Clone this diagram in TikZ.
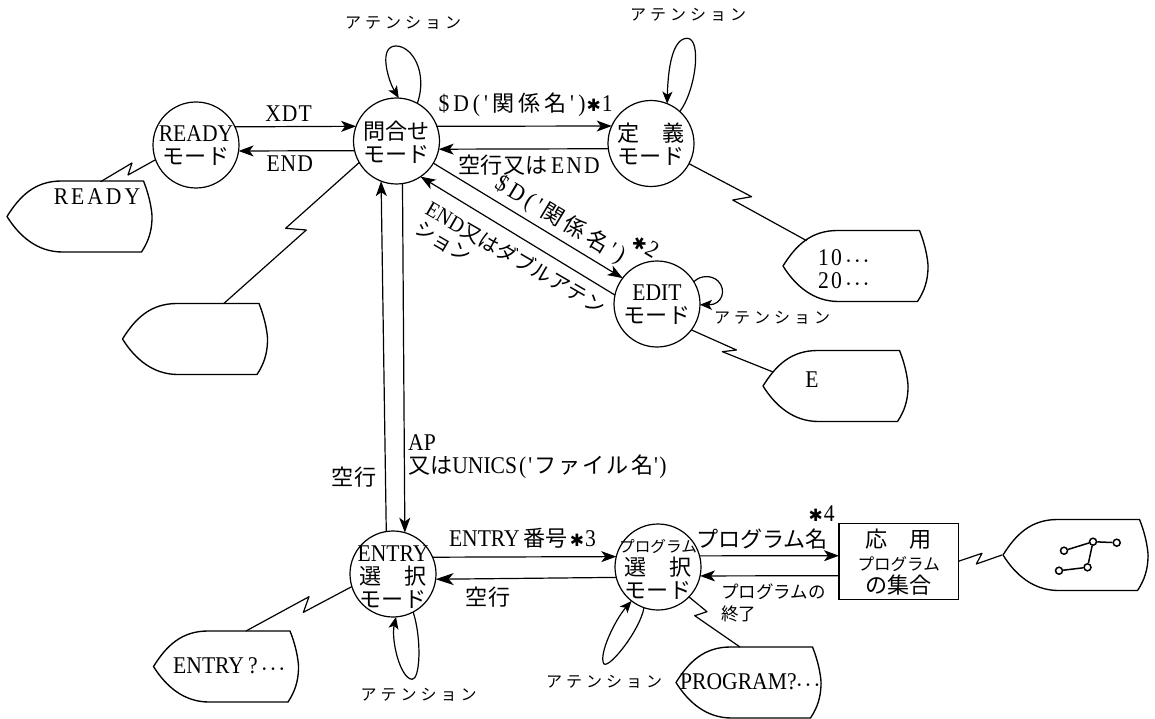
\documentclass[tikz,border=0pt]{standalone}
\usepackage{fontspec}
\setmainfont[FakeStretch=0.9]{Liberation Serif}
\newfontfamily\jp[Scale=0.92]{Noto Sans CJK JP}
\newfontfamily\jpk[LetterSpace=25]{Noto Sans CJK JP}
\newfontfamily\djv{DejaVu Sans}
\usetikzlibrary{arrows.meta,calc}
\tikzset{
  wire/.style={line width=1.2pt,line join=round},
  arrowed/.style={wire,-{Stealth[length=15pt,width=11pt,inset=4pt]}},
  bigarrow/.style={wire,-{Stealth[length=18pt,width=12pt,inset=5pt]}},
  loopwire/.style={wire,-{Stealth[length=12pt,width=10pt,inset=3pt]}},
  statecirc/.style={circle,draw,line width=1.2pt,minimum size=86pt,inner sep=0pt,outer sep=0pt},
  txt/.style={inner sep=0pt,font=\fontsize{24}{23}\selectfont,align=center},
  attn/.style={inner sep=0pt,font=\fontsize{16}{18}\jpk},
  tapebox/.style={minimum width=145pt,minimum height=71pt,inner sep=0pt,outer sep=0pt},
  boxnode/.style={rectangle,draw,line width=1.2pt,inner sep=0pt,outer sep=0pt,minimum width=119.5pt,minimum height=76pt},
  dot/.style={circle,draw,line width=1.5pt,fill=white,minimum size=7pt,inner sep=0pt}
}
\newcommand{\statetext}[3]{%
  \node[statecirc] (#1) at (#2,#3) {};
}
\newcommand{\tapeshape}[3]{%
  \node[tapebox] (#1) at (#2,#3) {};
  \begin{scope}[shift={(#1.center)}]
    \draw[wire,line width=1.35pt] (-72.5,0) .. controls (-60,-20) and (-45,-35.5) .. (-18,-35.5) -- (64,-35.5)
      .. controls (71,-18) and (73,-2) .. (72.5,3) .. controls (72,15) and (69,25) .. (62,35.5)
      -- (-17,35.5) .. controls (-42,35.5) and (-60,20) .. cycle;
  \end{scope}
}
\newcommand{\dd}{{\fontsize{16}{16}\selectfont\boldmath$\cdots$}}
\newcommand{\st}{{\fontsize{17}{17}\djv ✱}}
\newcommand{\qt}{\textquotesingle}
\newcommand{\DD}{\$\,D\,(\,\qt\,{\jp 関\,係\,名}\,\qt\,)}
\begin{document}
\begin{tikzpicture}[x=1pt,y=-1pt]
\useasboundingbox (0,0) rectangle (1155,719);
\fill[white] (0,0) rectangle (1155,719);

% states
\statetext{ready}{196}{145}
\node[txt] (ready-text) at (196,146) {READY\\{\jp モード}};
\statetext{q}{396.5}{141}
\node[txt] (q-text) at (396.5,142) {{\jp 問合せ}\\{\jp モード}};
\statetext{def}{651}{143.5}
\node[txt] (def-text) at (651,144) {{\jp 定\quad 義}\\{\jp モード}};
\statetext{edit}{657}{304}
\node[txt] (edit-text) at (657,305) {EDIT\\{\jp モード}};
\statetext{entry}{393}{574}
\node[txt] (entry-text) at (393,577) {\fontsize{24}{22}\selectfont ENTRY\\{\jp 選\quad 択}\\{\jp モード}};
\statetext{prog}{658}{567}
\node[txt] (prog-text) at (658,569) {\fontsize{24}{22.5}\selectfont{\fontsize{17}{20}\jp プログラム}\\{\jp 選\quad 択}\\{\jp モード}};
\node[boxnode] (apps) at (898.7,561.3) {};
\node[txt] (apps-text) at (898.7,562) {\fontsize{24}{21}\selectfont{\jp 応\quad 用}\\{\fontsize{18}{20}\jp プログラム}\\{\jp の集合}};

% tapes
\tapeshape{treadyt}{79.5}{216.5}
\tapeshape{tblank}{195}{339}
\tapeshape{tdef}{855.5}{266}
\tapeshape{tedit}{835.5}{386}
\tapeshape{tentry}{226}{666.5}
\tapeshape{tprog}{748.5}{682.5}
\tapeshape{tapp}{1075.5}{555}

\node[txt] (l-ready) at (97,197) {R\kern3pt E\kern3pt A\kern3pt D\kern3pt Y};
\node[txt,anchor=west] (l-10) at (818,269) {\fontsize{24}{24}\selectfont 1\kern2pt 0\kern4pt\dd\\2\kern2pt 0\kern4pt\dd};
\node[txt] (l-e) at (812,380) {E};
\node[txt] (l-entry) at (229,665.7) {ENTRY\,?\,\dd};
\node[txt] (l-prog) at (750,681.7) {PROGRAM?\dd};

% network inside the last tape
\node[dot] (g1) at (1064,550.7) {};
\node[dot] (g2) at (1093,541.7) {};
\node[dot] (g3) at (1116.7,542.7) {};
\node[dot] (g4) at (1059,570.7) {};
\node[dot] (g5) at (1087.5,567.3) {};
\draw[wire,line width=1.5pt] (g1) -- (g2) -- (g3) (g2) -- (g5) -- (g4);

% free ends of the zigzags
\coordinate (e-ready) at (100.6,181.7);
\coordinate (e-blank) at (223.8,303.5);
\coordinate (e-def) at (806.7,240.7);
\coordinate (e-edit) at (773,372);
\coordinate (e-entry) at (246,631);
\coordinate (e-prog) at (740,647);
\coordinate (e-app) at (1002,555);

% zigzag links
\draw[wire] (ready.200) -- (128,175) -- (132,163) -- (e-ready);
\draw[wire] (q.210) -- (285.6,228.3) -- (306.3,230) -- (e-blank);
\draw[wire] (def.332) -- (751.6,196.7) -- (732.7,200) -- (e-def);
\draw[wire] (edit.323) -- (736.5,350) -- (722.4,351.7) -- (e-edit);
\draw[wire] (entry.197) -- (303.4,612.3) -- (309,596.7) -- (e-entry);
\draw[wire] (prog.316) -- (707,611.7) -- (694.7,615.7) -- (e-prog);
\draw[wire] (apps.east) -- (982,553.3) -- (976.3,564) -- (e-app);

% arrows
\draw[arrowed] (ready.25) -- (q.160);
\draw[arrowed] (q.193) -- (ready.352);
\draw[arrowed] (q.20) -- (def.156);
\draw[arrowed] (def.187) -- (q.349);
\draw[arrowed] (q.329) -- (edit.143);
\draw[arrowed] (edit.168) -- (q.304);
\draw[arrowed] (entry.99) -- (q.249);
\draw[arrowed] (q.278) -- (entry.74);
\draw[arrowed] (entry.23) -- (prog.166);
\draw[bigarrow] (prog.194) -- (entry.353);
\draw[arrowed] (prog.15) -- ([yshift=5.6pt]apps.west);
\draw[arrowed] ([yshift=-14.4pt]apps.west) -- (prog.348);

% self loops
\draw[loopwire] (q.61) .. controls (428,72) and (412,46) .. (396,46) .. controls (378,46) and (388,80) .. (q.87);
\draw[loopwire] (def.48) .. controls (696,90) and (702,38) .. (687,38.3) .. controls (672,38.6) and (668,70) .. (def.68);
\draw[loopwire] (edit.31) .. controls (700,275) and (712,275) .. (718,281) .. controls (727,290) and (722,305) .. (edit.359);
\draw[loopwire] (entry.298) .. controls (422,640) and (420,680) .. (412,679.3) .. controls (400,678) and (391,640) .. (entry.274);
\draw[loopwire] (prog.251) .. controls (640,630) and (610,668) .. (604,664) .. controls (598,655) and (615,620) .. (prog.232);

% labels
\node[attn] (a1) at (403,23) {アテンション};
\node[attn] (a2) at (688,15) {アテンション};
\node[attn] (a3) at (772,318) {アテンション};
\node[attn] (a4) at (418.5,695) {アテンション};
\node[attn] (a5) at (604,681.7) {アテンション};

\node[txt] (xdt) at (288.6,114) {X\kern1pt D\kern1pt T};
\node[txt] (endl) at (289.7,164) {E\kern1pt N\kern1pt D};
\node[txt,anchor=west] (dd1) at (438.4,105) {\DD\kern1pt\st\kern1pt 1};
\node[txt,anchor=west] (emp) at (458.7,165) {{\jp 空行又は}\kern4pt E\kern2pt N\kern2pt D};
\node[txt,rotate=-31,anchor=west] (dd2) at (497,182) {\DD\smash{\raisebox{21pt}{\st\kern1pt 2}}};
\node[txt,rotate=-30,align=left,font=\fontsize{22}{22}\selectfont] (end2) at (510.5,267) {END{\jp 又はダブルアテン}\\{\jp ション}};
\node[txt,align=left,anchor=west] (ap) at (408,457) {\fontsize{24}{27}\selectfont AP\\{\jp 又は}UNICS\kern2pt(\kern2pt\qt\kern2pt{\jp フ\kern2pt ァ\kern2pt イ\kern2pt ル\kern2pt 名}\kern1pt\qt\kern1pt)};
\node[txt] (emp2) at (354,476.7) {\jp 空行};
\node[txt] (eno) at (522.5,538) {ENTRY\,{\jp 番号}\kern2pt\st\kern1pt 3};
\node[txt] (emp3) at (488,596.7) {\jp 空行};
\node[txt] (pname) at (762,539) {\jp プログラム名};
\node[txt] (star4) at (821.6,514) {\st\kern1pt 4};
\node[txt,align=left,anchor=west,font=\fontsize{19}{21.5}\selectfont] (pend) at (721,603) {{\jp プログラムの}\\{\jp 終了}};
\end{tikzpicture}
\end{document}
